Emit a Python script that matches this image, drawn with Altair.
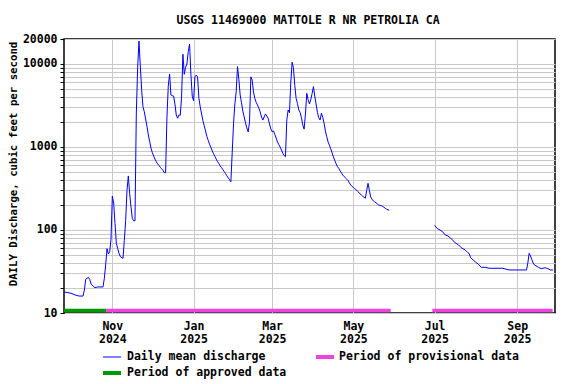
import altair as alt
import pandas as pd

# ---- data (day numbers counted from 2024-10-01 UTC; discharge in cubic feet per second)
seg1_day = [-5, 0, 3, 6, 9, 10, 11, 13, 14, 15, 17, 18, 20, 24, 25, 26, 27, 28, 29, 30,
            31, 32, 33, 34, 35, 36, 37, 39, 40, 41, 42, 43, 44, 45, 46, 47, 48, 49, 50,
            51, 52, 53, 54, 55, 56, 57, 58, 59, 60, 61, 62, 63, 64, 65, 66, 67, 68, 69,
            70, 71, 72, 73, 74, 75, 76, 77, 78, 79, 80, 81, 82, 83, 84, 85, 86, 87, 88,
            89, 90, 91, 92, 93, 94, 95, 96, 97, 98, 99, 100, 101, 102, 103, 104, 105,
            106, 107, 108, 109, 110, 111, 112, 113, 114, 115, 116, 117, 118, 119, 120,
            121, 122, 123, 124, 125, 126, 127, 128, 129, 130, 131, 132, 133, 134, 135,
            136, 137, 138, 139, 140, 141, 142, 143, 144, 145, 146, 147, 148, 149, 150,
            151, 152, 153, 154, 155, 156, 157, 158, 159, 160, 161, 162, 163, 164, 165,
            166, 167, 168, 169, 170, 171, 172, 173, 174, 175, 176, 177, 178, 179, 180,
            181, 182, 183, 184, 185, 186, 187, 188, 189, 190, 191, 192, 193, 194, 195,
            196, 197, 198, 199, 200, 201, 202, 203, 204, 205, 206, 207, 208, 209, 210,
            211, 212, 213, 214, 215, 216, 217, 218, 219, 220, 221, 222, 223, 224, 225,
            226, 227, 228, 229, 230, 231, 232, 233, 234, 235, 236, 237, 238, 239]
seg1_cfs = [17.9, 17.3, 16.5, 16.0, 16.0, 18.9, 25.5, 26.9, 25.5, 22.4, 20.7, 20.2, 20.6,
            20.6, 26.2, 38, 59.5, 51.4, 54.8, 77.3,
            257, 210, 120, 69, 60, 52.4, 47.7, 45.6, 75, 130, 300, 448, 277, 190, 138,
            129, 129, 2500, 9000,
            18900, 9500, 4900, 3050, 2660, 2170, 1780, 1400, 1170, 970, 860, 780, 715,
            665, 625, 600, 570, 545, 525,
            490, 490, 2300, 5400, 7580, 4230, 4150, 4110, 3300, 2430, 2220, 2430, 2410,
            4000, 13100, 7500, 9120, 10000, 14100,
            17300, 7500, 4100, 3610, 7000, 7360, 7000, 3860, 3050, 2500, 2080, 1800,
            1560, 1340, 1200, 1080, 990,
            900, 830, 770, 715, 665, 630, 590, 565, 535, 505, 478, 450, 425, 405, 380,
            850, 1900, 3300, 4640, 9300, 6540, 4230, 3400, 2700, 2300, 1950, 1700, 1520,
            2000, 7000,
            6410, 4600, 3860, 3450, 3200, 2950, 2650, 2300, 2110, 2300, 2500, 2360, 2220,
            1900, 1650,
            1530, 1560, 1420, 1280, 1150, 1070, 1000, 920, 840, 790, 764, 2110, 2790,
            2590, 6000,
            10500, 9000, 5500, 3860, 3350, 2800, 2600, 2250, 1850, 1640, 2500, 4440, 3720,
            3300, 3700,
            4400, 5330, 4110, 3300, 2600, 2250, 2110, 2550, 2280, 1930, 1550, 1330, 1150,
            1050, 950,
            850, 760, 690, 630, 580, 555, 515, 490, 460, 440, 425, 410, 395, 370, 349,
            335, 325, 315, 305, 295, 285, 272, 264, 255, 248, 241, 300, 365, 300, 250,
            235, 224, 218, 213, 206, 200, 198, 196, 192, 188, 182, 178, 175, 173]
seg2_day = [273, 275, 277, 279, 281, 283, 286, 288, 291, 293, 296, 298, 299, 300, 302, 304,
            306, 308, 311, 314, 324, 329, 342, 343, 344, 345, 346, 347, 348, 351, 353, 356,
            358, 360, 362]
seg2_cfs = [114, 104, 100, 95.4, 87.1, 84.7, 77.3, 71.1, 66, 61.2, 57.4, 53.3, 52, 46.5,
            43.5, 40.8, 38.6, 35.5, 35.5, 34.6, 34.6, 33.0, 33, 40, 52.4, 48.6, 44, 40,
            37.9, 35.5, 34.2, 35.1, 34.2, 33, 33]

approved_days = [[-5.3, 26.3]]
provisional_days = [[26.3, 240.0], [271.3, 361.6]]

x_domain_days = [-5.3, 363.4]
x_tick_dates = ["2024-11-01", "2025-01-01", "2025-03-01", "2025-05-01",
                "2025-07-01", "2025-09-01"]
y_labels = [10, 100, 1000, 10000, 20000]
y_grid = [m * 10 ** e for e in range(1, 4) for m in range(1, 10)] + [10000, 20000]

title_text = "USGS 11469000 MATTOLE R NR PETROLIA CA"
y_title = "DAILY Discharge, cubic feet per second"
legend_labels = ["Daily mean discharge", "Period of provisional data",
                 "Period of approved data"]

BLUE = "#0000ff"
PINK = "#ee44dd"
GREEN = "#009900"
FONT = "DejaVu Sans Mono"
FS = 11.5

base = pd.Timestamp("2024-10-01")


def ms(d):
    return int((base + pd.to_timedelta(d, unit="D")).value // 10**6)


def ms_date(s):
    return int(pd.Timestamp(s).value // 10**6)


line_df = pd.DataFrame({
    "date": [ms(d) for d in seg1_day] + [ms(d) for d in seg2_day],
    "cfs": seg1_cfs + seg2_cfs,
    "seg": ["a"] * len(seg1_day) + ["b"] * len(seg2_day),
})

period_df = pd.DataFrame({
    "start": [ms(a) for a, b in approved_days] + [ms(a) for a, b in provisional_days],
    "end": [ms(b) for a, b in approved_days] + [ms(b) for a, b in provisional_days],
    "kind": ["approved"] * len(approved_days) + ["provisional"] * len(provisional_days),
})

W, H = 491, 274

xscale = alt.Scale(type="utc", domain=[ms(x_domain_days[0]), ms(x_domain_days[1])])
yscale = alt.Scale(type="log", domain=[10, 20000], nice=False)

xaxis = alt.Axis(
    values=[ms_date(s) for s in x_tick_dates],
    labelExpr="[utcFormat(datum.value, '%b'), utcFormat(datum.value, '%Y')]",
    grid=True, gridColor="#c8c8c8", gridWidth=1,
    ticks=False, domain=False, labelPadding=7, labelLineHeight=13,
    labelFont=FONT, labelFontSize=FS, labelFontWeight="bold", labelColor="black",
    labelFlush=False, labelOverlap=False, labelBaseline="top",
)
yaxis = alt.Axis(
    values=y_grid,
    labelExpr="indexof(%s, datum.value) >= 0 ? format(datum.value, 'd') : ''" % str(y_labels),
    grid=True, gridColor="#c8c8c8", gridWidth=1,
    ticks=True, tickSize=4, tickColor="black", domain=False, labelPadding=3,
    labelFont=FONT, labelFontSize=FS, labelFontWeight="bold", labelColor="black",
    labelOverlap=False, labelFlush=False,
)

line = alt.Chart(line_df).mark_line(color=BLUE, strokeWidth=1, clip=True).encode(
    x=alt.X("date:T", scale=xscale, axis=xaxis, title=None),
    y=alt.Y("cfs:Q", scale=yscale, axis=yaxis, title=None),
    detail="seg:N",
)

bars = alt.Chart(period_df).mark_rule(strokeWidth=3.5, clip=True).encode(
    x=alt.X("start:T", scale=xscale),
    x2="end:T",
    y=alt.value(H - 2.5),
    color=alt.Color("kind:N", scale=alt.Scale(domain=["approved", "provisional"],
                                             range=[GREEN, PINK]), legend=None),
)


def text_layer(txt, x, y, size=FS, **kw):
    return alt.Chart(pd.DataFrame({"t": [txt]})).mark_text(
        font=FONT, fontSize=size, fontWeight="bold", color="black", **kw
    ).encode(x=alt.value(x), y=alt.value(y), text="t:N")


def sample_layer(color, x0, x1, y, sw):
    return alt.Chart(pd.DataFrame({"t": [0]})).mark_rule(color=color, strokeWidth=sw).encode(
        x=alt.value(x0), x2=alt.value(x1), y=alt.value(y))


title = text_layer(title_text, W / 2 - 1.5, -15, align="center", baseline="alphabetic")
ytitle = text_layer(y_title, -47.5, 125, size=10.7, align="center",
                    baseline="alphabetic", angle=270)

legend = [
    sample_layer(BLUE, 39, 57, 318, 1),
    text_layer(legend_labels[0], 63, 318, align="left", baseline="middle"),
    sample_layer(PINK, 252, 270, 318, 4),
    text_layer(legend_labels[1], 275, 318, align="left", baseline="middle"),
    sample_layer(GREEN, 39, 57, 334, 4),
    text_layer(legend_labels[2], 63, 334, align="left", baseline="middle"),
]

chart = alt.layer(line, bars, title, ytitle, *legend).properties(
    width=W, height=H,
    autosize=alt.AutoSizeParams(type="none"),
    padding={"left": 56, "top": 31, "right": 13, "bottom": 68},
    background="white",
).configure_view(stroke="black", strokeWidth=1.5)

chart.save("out.html", embed_options={"renderer": "svg", "actions": False})
